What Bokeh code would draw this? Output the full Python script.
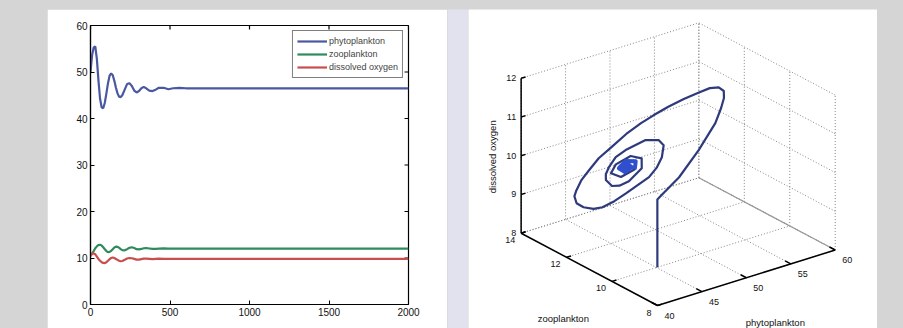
import math
from bokeh.plotting import figure
from bokeh.models import Range1d, Legend, LegendItem, Label, Spacer, FixedTicker
from bokeh.layouts import row, column
from bokeh.embed import file_html
from bokeh.resources import INLINE
from bokeh.core.properties import value

# ---------------- data: time series (left) ----------------
time_d = [0, 10, 20, 30, 40, 50, 60, 70, 80, 90, 100, 110, 120, 130, 140, 150, 160, 170, 180, 190, 200,
          215, 230, 245, 260, 275, 290, 305, 320, 335, 350, 370, 390, 410, 430, 460, 490, 520, 560, 600,
          800, 1200, 1600, 2000]
phytoplankton = [50.0, 53.6, 55.3, 55.5, 52.8, 48.2, 44.3, 42.4, 42.2, 43.4, 45.4, 47.6, 49.2, 49.7, 49.3,
                 48.1, 46.6, 45.4, 44.7, 44.6, 45.0, 46.2, 47.4, 47.6, 47.0, 46.0, 45.6, 45.9, 46.5, 46.8,
                 46.5, 46.0, 45.9, 46.2, 46.6, 46.6, 46.3, 46.5, 46.6, 46.5, 46.5, 46.5, 46.5, 46.5]
zooplankton = [10.6, 11.0, 11.5, 12.1, 12.5, 12.8, 12.85, 12.7, 12.3, 11.9, 11.5, 11.25, 11.3, 11.55, 11.9,
               12.25, 12.45, 12.4, 12.2, 11.9, 11.7, 11.65, 11.9, 12.2, 12.3, 12.15, 11.9, 11.85, 11.95, 12.1,
               12.15, 12.05, 11.95, 11.95, 12.0, 12.05, 12.0, 12.0, 12.0, 12.0, 12.0, 12.0, 12.0, 12.0]
dissolved_oxygen = [10.4, 10.9, 11.0, 10.8, 10.3, 9.8, 9.4, 9.1, 8.95, 8.9, 9.1, 9.4, 9.75, 10.0, 10.1,
                    10.0, 9.8, 9.6, 9.4, 9.3, 9.35, 9.6, 9.9, 10.0, 9.95, 9.8, 9.65, 9.65, 9.75, 9.85,
                    9.85, 9.8, 9.75, 9.8, 9.85, 9.82, 9.8, 9.8, 9.8, 9.8, 9.8, 9.8, 9.8, 9.8]
time_ticks = [0, 500, 1000, 1500, 2000]
value_ticks = [0, 10, 20, 30, 40, 50, 60]
series_names = ["phytoplankton", "zooplankton", "dissolved oxygen"]

# ---------------- data: phase trajectory (right) ----------------
traj_phyto = [45.1, 45.1, 45.68, 48.06, 50.90, 53.67, 54.96, 55.92, 56.54, 56.61, 56.24, 55.53, 54.60,
              53.44, 52.31, 51.19, 49.53, 47.61, 45.79, 44.06, 42.67, 41.61, 41.01, 40.74, 41.01, 41.75,
              42.5, 43.38, 44.42, 46.72, 47.66, 48.42, 49.26, 49.46, 48.89, 47.54, 46.68, 45.90, 45.44,
              45.19, 45.24, 45.76, 46.5, 47.82, 48.19, 47.47, 46.18, 45.38, 45.99, 47.29, 47.65, 46.92,
              46.14, 46.51, 47.21, 46.94, 46.52, 46.78, 46.78]
traj_zoo = [10.0, 10.0, 10.05, 10.2, 10.45, 10.8, 11.05, 11.3, 11.55, 11.8, 12.05, 12.3, 12.55,
            12.8, 12.97, 13.1, 13.1, 13.0, 12.85, 12.6, 12.4, 12.2, 12.05, 11.85, 11.65, 11.5,
            11.4, 11.22, 11.1, 11.0, 11.02, 11.1, 11.35, 11.65, 12.0, 12.35, 12.45, 12.45, 12.4,
            12.3, 12.05, 11.93, 11.8, 11.75, 11.9, 12.1, 12.25, 12.15, 11.95, 11.85, 11.95, 12.1,
            12.1, 11.98, 11.95, 12.02, 12.03, 12.0, 12.0]
traj_oxygen = [8.0, 9.75, 9.80, 10.05, 10.47, 10.86, 11.08, 11.19, 11.25, 11.26, 11.19, 11.04, 10.87,
               10.67, 10.49, 10.32, 10.16, 9.99, 9.88, 9.77, 9.67, 9.55, 9.49, 9.39, 9.33, 9.28,
               9.30, 9.45, 9.62, 9.90, 10.08, 10.26, 10.43, 10.46, 10.39, 10.12, 9.97, 9.76, 9.63,
               9.53, 9.45, 9.46, 9.56, 9.82, 10.00, 10.05, 9.88, 9.74, 9.66, 9.80, 9.95, 9.96,
               9.83, 9.74, 9.83, 9.90, 9.85, 9.82, 9.87]
phyto_ticks = [40, 45, 50, 55, 60]
zoo_ticks = [8, 10, 12, 14]
oxygen_ticks = [8, 9, 10, 11, 12]

FONT = "Liberation Sans"
BG = "#d5d5d5"
STRIP = "#e2e2ef"
C_PHY = "#4a58a0"
C_ZOO = "#2f8a5c"
C_OXY = "#c84e4e"


def no_align(fig):
    try:
        fig.frame_align = False
    except Exception:
        pass


# ---------------- left figure ----------------
W1, H1 = 400, 319
BL, BR, BT, BB = 43, 39, 16, 24
p1 = figure(width=W1, height=H1, x_range=Range1d(0, 2000), y_range=Range1d(0, 60),
            output_backend="svg", toolbar_location=None,
            min_border_left=BL, min_border_right=BR, min_border_top=BT, min_border_bottom=BB,
            background_fill_color="white", border_fill_color="white")
no_align(p1)
p1.grid.visible = False
p1.outline_line_color = "black"
p1.outline_line_width = 1.2
p1.xaxis.ticker = FixedTicker(ticks=time_ticks)
p1.yaxis.ticker = FixedTicker(ticks=value_ticks)
for ax in p1.xaxis + p1.yaxis:
    ax.major_tick_in = 4
    ax.major_tick_out = 0
    ax.minor_tick_line_color = None
    ax.axis_line_width = 1.2
    ax.major_label_text_font = FONT
    ax.major_label_text_font_size = "10px"
    ax.major_label_text_color = "#111111"
    ax.major_label_standoff = 3

# mirrored ticks on the top and right edges (MATLAB box style)
fw, fh = W1 - BL - BR, H1 - BT - BB
tick_px = 4
dx_tick = tick_px * 2000 / fw
dy_tick = tick_px * 60 / fh
p1.segment(x0=time_ticks, y0=[60] * len(time_ticks), x1=time_ticks, y1=[60 - dy_tick] * len(time_ticks),
           line_color="black", line_width=1.2)
p1.segment(x0=[2000] * len(value_ticks), y0=value_ticks, x1=[2000 - dx_tick] * len(value_ticks),
           y1=value_ticks, line_color="black", line_width=1.2)

r1 = p1.line(time_d, phytoplankton, line_color=C_PHY, line_width=2.2)
r2 = p1.line(time_d, zooplankton, line_color=C_ZOO, line_width=2.2)
r3 = p1.line(time_d, dissolved_oxygen, line_color=C_OXY, line_width=2.2)

legend = Legend(items=[LegendItem(label=series_names[0], renderers=[r1]),
                       LegendItem(label=series_names[1], renderers=[r2]),
                       LegendItem(label=series_names[2], renderers=[r3])],
                location="top_right", label_text_font=FONT, label_text_font_size="9px",
                glyph_width=30, glyph_height=12, label_height=12, label_standoff=2,
                spacing=1, padding=4, margin=5, border_line_color="black", border_line_width=1,
                background_fill_alpha=1.0)
p1.add_layout(legend)
p1.add_layout(Label(x=1000, y=-3.2, text="time/d", text_align="center", text_baseline="top",
                    text_font=FONT, text_font_size="8.5px", text_color="#111111"))

# ---------------- strip ----------------
strip = figure(width=21, height=319, output_backend="svg", toolbar_location=None, min_border=0,
               x_axis_type=None, y_axis_type=None, background_fill_color=STRIP,
               border_fill_color=STRIP, outline_line_color=None)
no_align(strip)
strip.grid.visible = False

# ---------------- right figure (3-D view) ----------------
AZ = math.radians(37.5)
EL = math.radians(24)
KZ = 0.757
S = 224.0  # pixels per box unit


def proj(ph, zo, ox):
    xn = (ph - 40) / 20.0
    yn = (zo - 8) / 6.0
    zn = (ox - 8) / 4.0
    u = xn * math.cos(AZ) - yn * math.sin(AZ)
    v = (xn * math.sin(AZ) + yn * math.cos(AZ)) * math.sin(EL) + zn * KZ * math.cos(EL)
    return u, v


W2, H2 = 409, 319
ox0, oy0 = 189.0, 296.0  # pixel position of the front-bottom corner inside the figure
p2 = figure(width=W2, height=H2, output_backend="svg", toolbar_location=None, min_border=0,
            x_range=Range1d(-ox0 / S, (W2 - ox0) / S), y_range=Range1d(-(H2 - oy0) / S, oy0 / S),
            x_axis_type=None, y_axis_type=None, background_fill_color="white",
            border_fill_color="white", outline_line_color=None)
no_align(p2)
p2.grid.visible = False

pmin, pmax = phyto_ticks[0], phyto_ticks[-1]
zmin, zmax = zoo_ticks[0], zoo_ticks[-1]
omin, omax = oxygen_ticks[0], oxygen_ticks[-1]


def seg(a, b):
    ua, va = proj(*a)
    ub, vb = proj(*b)
    return [ua, ub], [va, vb]


gx, gy = [], []
def add(a, b):
    x, y = seg(a, b)
    gx.append(x); gy.append(y)

for ph in phyto_ticks:
    add((ph, zmax, omin), (ph, zmax, omax))
    add((ph, zmin, omin), (ph, zmax, omin))
for ox in oxygen_ticks:
    add((pmin, zmax, ox), (pmax, zmax, ox))
    add((pmax, zmin, ox), (pmax, zmax, ox))
for zo in zoo_ticks:
    add((pmax, zo, omin), (pmax, zo, omax))
    add((pmin, zo, omin), (pmax, zo, omin))
p2.multi_line(gx, gy, line_color="#858585", line_width=1, line_dash="1 2")
sx, sy = seg((pmax, zmin, omin), (pmax, zmax, omin))
p2.line(sx, sy, line_color="#9a9a9a", line_width=1.2)

# axes
ax_x, ax_y = [], []
for a, b in (((pmin, zmax, omin), (pmin, zmax, omax)),
             ((pmin, zmin, omin), (pmin, zmax, omin)),
             ((pmin, zmin, omin), (pmax, zmin, omin))):
    x, y = seg(a, b)
    ax_x.append(x); ax_y.append(y)
for ox in oxygen_ticks:
    x, y = seg((pmin, zmax, ox), (pmin + 0.5, zmax, ox)); ax_x.append(x); ax_y.append(y)
for zo in zoo_ticks:
    x, y = seg((pmin, zo, omin), (pmin + 0.5, zo, omin)); ax_x.append(x); ax_y.append(y)
for ph in phyto_ticks:
    x, y = seg((ph, zmin, omin), (ph, zmin + 0.25, omin)); ax_x.append(x); ax_y.append(y)
p2.multi_line(ax_x, ax_y, line_color="black", line_width=1.5)

# tick labels
def lbl(points, texts, dx, dy, align, angle=0.0, size="9px"):
    xs, ys = [], []
    for pt in points:
        u, v = proj(*pt)
        xs.append(u + dx / S)
        ys.append(v - dy / S)
    p2.text(x=xs, y=ys, text=texts, text_font=value(FONT), text_font_size=size,
            text_align=align, text_baseline="middle", text_color="#111111", angle=angle)

lbl([(pmin, zmax, o) for o in oxygen_ticks], [str(o) for o in oxygen_ticks], -5, 0, "right")
lbl([(pmin, z, omin) for z in zoo_ticks], [str(z) for z in zoo_ticks], -6, 7, "right")
lbl([(ph, zmin, omin) for ph in phyto_ticks], [str(ph) for ph in phyto_ticks], 12, 10, "center")
lbl([(pmin, zmax, (omin + omax) / 2)], ["dissolved oxygen"], -29, 1, "center", angle=math.pi / 2, size="9.5px")
lbl([(pmin, (zmin + zmax) / 2, omin)], ["zooplankton"], -26, 49, "center", size="9.5px")
lbl([((pmin + pmax) / 2, zmin, omin)], ["phytoplankton"], 29, 45, "center", size="9.5px")

# trajectory
tu, tv = [], []
for ph, zo, ox in zip(traj_phyto, traj_zoo, traj_oxygen):
    u, v = proj(ph, zo, ox)
    tu.append(u); tv.append(v)
TAIL = 49
p2.line(tu, tv, line_color="#2e3a7c", line_width=2.2, line_join="round")
p2.line(tu[TAIL:], tv[TAIL:], line_color="#2f4fcf", line_width=4, line_join="round")

layout = column(Spacer(width=10, height=9),
                row(Spacer(width=47, height=319), p1, strip, p2))

html = file_html(layout, INLINE, title="plankton")
style = ("<style>html, body { margin: 0 !important; padding: 0 !important; "
         "background-color: %s !important; }</style>" % BG)
html = html.replace("</head>", style + "</head>", 1)
open("out.html", "w").write(html)
